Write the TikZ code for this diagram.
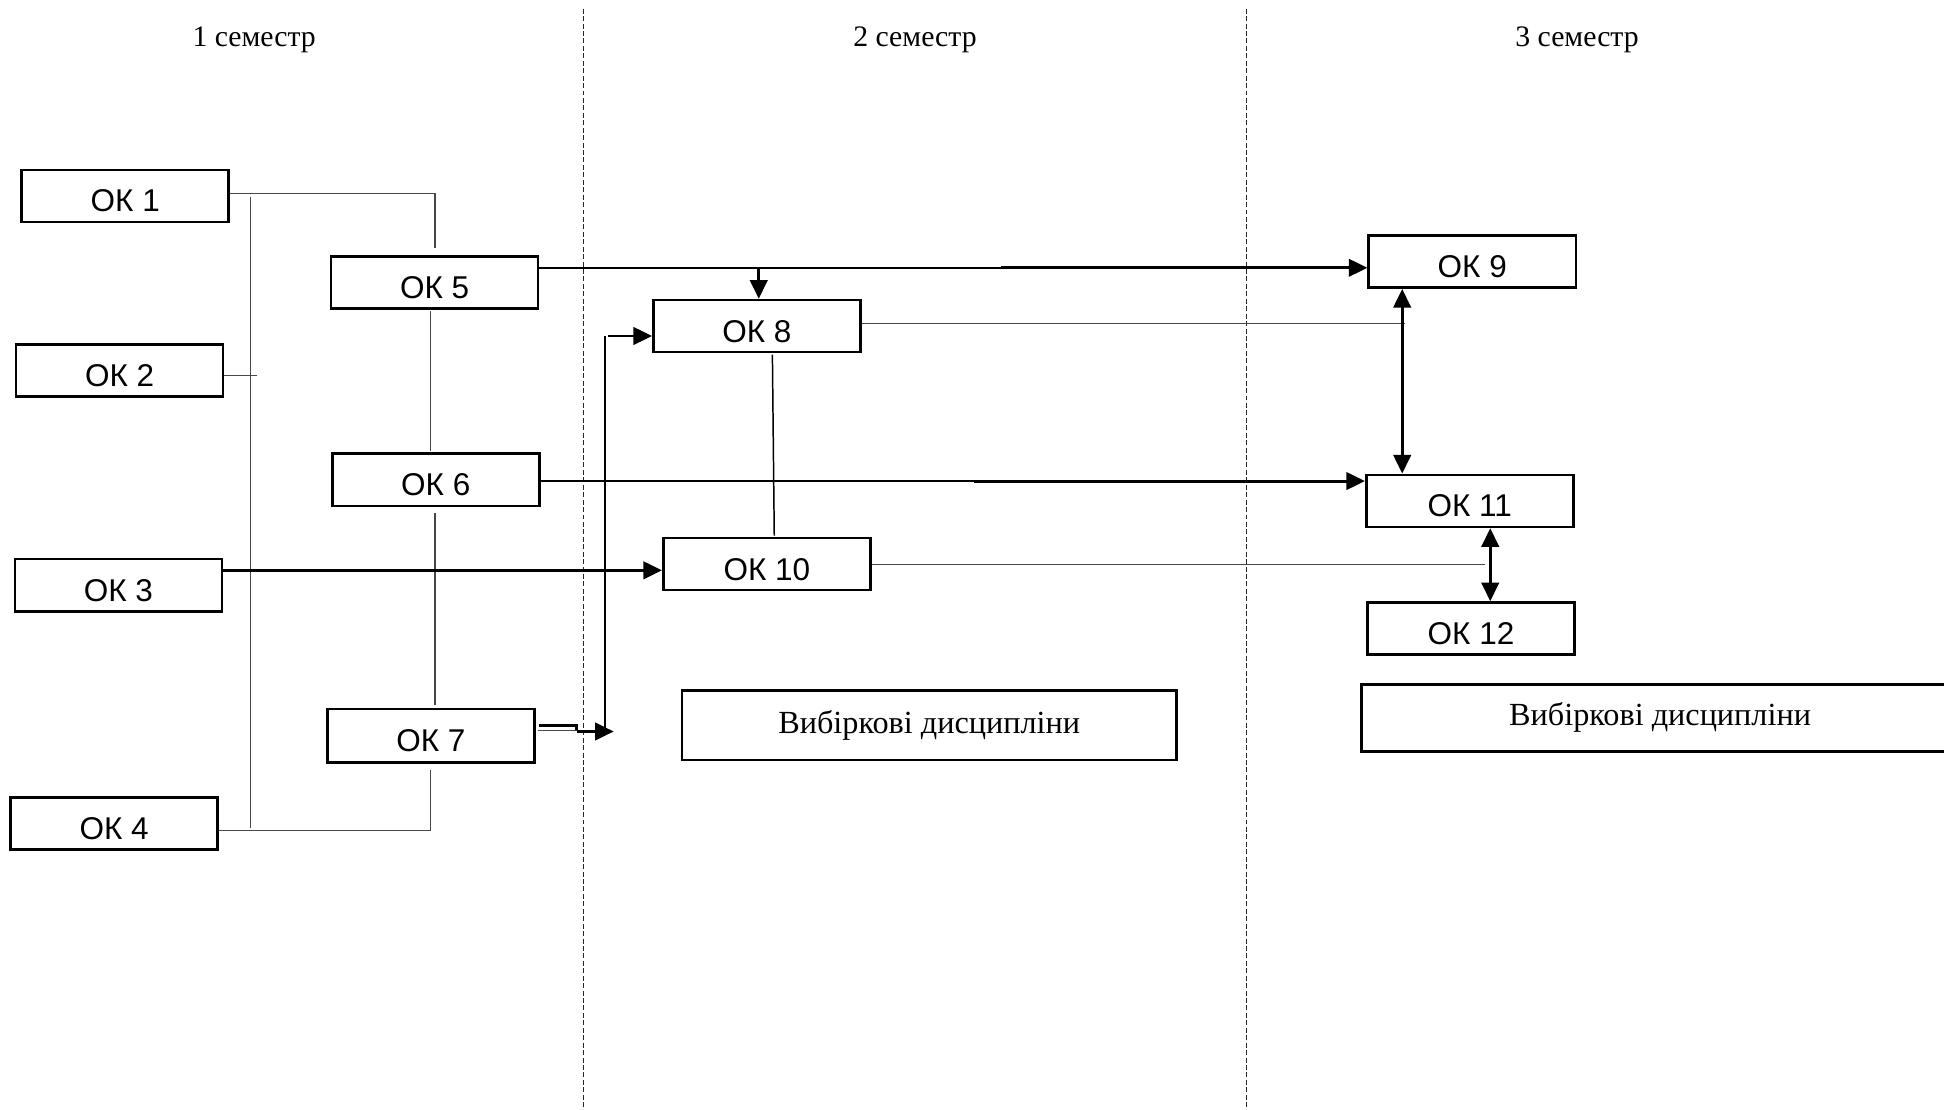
\documentclass[tikz,border=0pt]{standalone}
\usepackage{fontspec}
\setmainfont{Liberation Serif}
\newfontfamily\okfont{Liberation Sans}
\usetikzlibrary{arrows.meta,calc}
\begin{document}
\begin{tikzpicture}[x=0.5pt,y=-0.5pt,
  okbox/.style={draw, line width=1.05pt, minimum width=83.5pt, minimum height=21pt,
    inner sep=0pt, font=\okfont\fontsize{12.7}{14}\selectfont, text height=12.9pt, text depth=0pt},
  vybbox/.style={draw, line width=1.05pt, inner sep=0pt,
    font=\fontsize{13}{15}\selectfont},
  sem/.style={anchor=base, font=\fontsize{12}{14}\selectfont},
  divider/.style={draw=black!85, line width=0.4pt, dash pattern=on 2pt off 1pt},
  thinl/.style={draw=black!72, line width=0.55pt},
  thinb/.style={draw=black, line width=0.6pt},
  thickl/.style={draw=black, line width=1.2pt},
  arr/.style={thickl, -{Triangle[length=7.5pt,width=7pt]}},
  darr/.style={thickl, {Triangle[length=7.5pt,width=7pt]}-{Triangle[length=7.5pt,width=7pt]}}
]
\useasboundingbox (0,0) rectangle (1568,895);
\clip (0,0) rectangle (1568,895);

% semester dividers and titles
\coordinate (d1t) at (471,7);  \coordinate (d1b) at (471,895);
\coordinate (d2t) at (1005,7); \coordinate (d2b) at (1005,895);
\draw[divider] (d1t) -- (d1b);
\draw[divider] (d2t) -- (d2b);
\node[sem] (s1) at (205,37.5) {1 семестр};
\node[sem] (s2) at (738,37.5) {2 семестр};
\node[sem] (s3) at (1272,37.5) {3 семестр};

% boxes
\node[okbox] (ok1) at (101,158) {ОК 1};
\node[okbox] (ok2) at (96.5,299) {ОК 2};
\node[okbox] (ok3) at (95.5,472) {ОК 3};
\node[okbox] (ok4) at (92,664) {ОК 4};
\node[okbox] (ok5) at (350.5,228) {ОК 5};
\node[okbox] (ok6) at (351.5,387) {ОК 6};
\node[okbox, minimum height=21.5pt] (ok7) at (347.5,593.5) {ОК 7};
\node[okbox] (ok8) at (610.5,263) {ОК 8};
\node[okbox] (ok10) at (618.5,455) {ОК 10};
\node[okbox] (ok9) at (1187.5,211) {ОК 9};
\node[okbox] (ok11) at (1185.5,404) {ОК 11};
\node[okbox] (ok12) at (1186.5,507) {ОК 12};
\node[vybbox, minimum width=199.5pt, minimum height=28pt] (vyb1) at (749.5,585) {Вибіркові дисципліни};
\node[vybbox, minimum width=241pt, minimum height=27pt] (vyb2) at (1339,579) {Вибіркові дисципліни};

% semester 1 links
\coordinate (c1) at (351,200);
\draw[thinl] ($(ok1.east)+(0,-2)$) -| (c1);
\coordinate (v1t) at (202,159);
\coordinate (v1b) at (202,668);
\draw[thinl] (v1t) -- (v1b);
\coordinate (c2) at (207,303);
\draw[thinl] ($(ok2.east)+(0,4)$) -- (c2);
\coordinate (c4) at (347,621);
\draw[thinl] ($(ok4.east)+(0,6)$) -| (c4);
\draw[thinl] ($(ok5.south)+(-3.5,1)$) -- ($(ok6.north)+(-4.5,-1)$);
\draw[thinl] ($(ok6.south)+(-0.5,5)$) -- ($(ok7.north)+(3.5,-2)$);

% OK5 -> OK9 with branch to OK8
\coordinate (j1) at (807,216);
\coordinate (j2) at (612,216);
\draw[thinb] ($(ok5.east)+(0,-12)$) -- (j1);
\draw[arr] (j1) -- ($(ok9.west)+(0,5)$);
\draw[arr] (j2) -- ($(ok8.north)+(1.5,0)$);

% OK6 -> OK11
\coordinate (j3) at (786,388);
\draw[thinb] ($(ok6.east)+(0,1)$) -- (j3);
\draw[arr] (j3) -- ($(ok11.west)+(0,-16)$);

% OK3 -> OK10
\draw[arr] ($(ok3.east)+(0,-12)$) -- ($(ok10.west)+(0,5)$);

% OK7 -> OK8
\coordinate (k1) at (465,585.5);
\coordinate (k2) at (495,590);
\coordinate (k3) at (465,589);
\coordinate (k4) at (488,590);
\coordinate (k5) at (488,271);
\coordinate (k6) at (490,271);
\draw[thickl] ($(ok7.east)+(3,-8)$) -- (k1) |- ($(k1)+(0,4.5)$);
\draw[arr] ($(k1)+(0,4.5)$) -- (k2);
\draw[thinl] ($(ok7.east)+(2,-4.5)$) -- (k3);
\draw[thinb] (k4) -- (k5);
\draw[arr] (k6) -- ($(ok8.west)+(0,8)$);

% OK8 -- OK10
\draw[thinb] ($(ok8.south)+(12.5,1)$) -- ($(ok10.north)+(6,-1)$);

% links to semester 3
\coordinate (j6) at (1133,261);
\draw[thinl] ($(ok8.east)+(0,-2)$) -- (j6);
\coordinate (j7) at (1198,455.5);
\draw[thinl] ($(ok10.east)+(0,0.5)$) -- (j7);
\draw[darr] ($(ok9.south)+(-56.5,0)$) -- ($(ok11.north)+(-54.5,0)$);
\draw[darr] ($(ok11.south)+(16.5,0)$) -- ($(ok12.north)+(15.5,0)$);
\end{tikzpicture}
\end{document}
